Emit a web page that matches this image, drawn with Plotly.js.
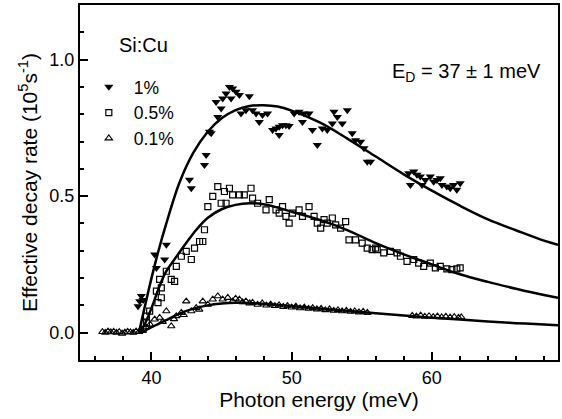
<!DOCTYPE html>
<html>
<head>
<meta charset="utf-8">
<script src="https://cdn.plot.ly/plotly-3.0.1.min.js"></script>
<style>html,body{margin:0;padding:0;background:#fff;}#chart{width:562px;height:419px;}</style>
</head>
<body>
<div id="chart"></div>
<script>
// ---- data ----
var seriesNames = ["1%", "0.5%", "0.1%"];

var cu1_x = [39.04,39.16,39.28,39.4,40.23,40.35,40.94,41.06,42.71,42.84,43.78,43.9,44.14,44.26,44.61,44.73,44.97,45.08,45.32,45.56,45.68,45.79,46.03,46.27,46.39,46.74,46.98,47.21,47.46,47.69,47.92,48.28,48.64,48.88,49.11,49.11,49.35,49.59,49.82,50.18,50.53,50.77,50.89,51.24,51.48,51.83,52.19,52.54,52.9,53.02,53.26,53.61,53.97,54.32,54.56,54.92,55.16,55.39,55.63,58.35,58.47,58.71,58.94,59.18,59.3,59.54,59.89,60.13,60.36,60.6,60.72,61.07,61.31,61.55,61.78,62.02];
var cu1_y = [0.097,0.115,0.134,0.12,0.286,0.237,0.268,0.322,0.56,0.529,0.614,0.651,0.736,0.73,0.845,0.79,0.821,0.858,0.876,0.900,0.858,0.894,0.882,0.870,0.803,0.815,0.866,0.815,0.803,0.772,0.797,0.803,0.742,0.748,0.754,0.724,0.76,0.76,0.757,0.803,0.809,0.772,0.803,0.803,0.742,0.687,0.748,0.742,0.766,0.809,0.79,0.766,0.815,0.73,0.705,0.699,0.675,0.626,0.626,0.584,0.541,0.59,0.578,0.572,0.541,0.559,0.572,0.553,0.559,0.566,0.541,0.535,0.529,0.541,0.523,0.547];

var cu05_x = [39.4,39.64,39.64,39.87,40.35,40.46,40.58,40.7,40.7,41.06,41.41,41.65,41.77,42.13,42.48,42.84,43.07,43.43,43.66,43.78,44.02,44.37,44.73,44.97,45.2,45.32,45.56,45.79,46.27,46.62,47.1,47.21,47.57,48.17,48.4,48.88,49.11,49.35,49.59,49.82,50.06,50.53,50.77,51.24,51.6,51.83,52.07,52.31,52.54,52.9,53.14,53.49,53.85,54.09,54.56,55.03,55.39,55.74,55.98,56.1,56.57,57.05,57.52,57.76,58.23,58.71,59.06,59.42,59.89,60.25,60.6,61.07,61.43,61.78,62.02];
var cu05_y = [0.012,0.036,0.061,0.079,0.152,0.11,0.195,0.164,0.128,0.225,0.195,0.188,0.243,0.28,0.298,0.268,0.31,0.334,0.334,0.377,0.462,0.499,0.535,0.474,0.517,0.474,0.529,0.505,0.505,0.505,0.529,0.493,0.474,0.45,0.487,0.45,0.438,0.462,0.426,0.401,0.438,0.45,0.426,0.462,0.426,0.401,0.383,0.414,0.401,0.42,0.395,0.383,0.407,0.34,0.34,0.328,0.31,0.304,0.31,0.304,0.292,0.298,0.292,0.28,0.261,0.268,0.255,0.243,0.255,0.237,0.243,0.234,0.231,0.234,0.237];

var cu01_x = [36.5,36.7,36.9,37.1,37.3,37.5,37.7,37.9,38.1,38.3,38.5,38.7,38.9,39.1,39.3,39.6,39.9,40.23,40.58,40.8,41.06,41.41,41.6,41.77,42.13,42.3,42.48,42.84,43.19,43.4,43.66,44.02,44.37,44.73,45.08,45.44,45.79,46.0,46.27,46.5,46.74,47.0,47.21,47.57,47.9,48.2,48.5,48.8,49.1,49.4,49.7,50.0,50.3,50.6,50.9,51.2,51.5,51.8,52.1,52.4,52.7,53.0,53.3,53.6,53.9,54.2,54.5,54.8,55.1,55.4,58.6,58.9,59.2,59.5,59.8,60.1,60.4,60.7,61.0,61.3,61.6,61.9,62.1];
var cu01_y = [0.003,0.0,0.005,0.002,0.004,0.0,0.003,-0.003,0.001,0.004,0.002,0.0,0.005,0.003,0.008,0.02,0.03,0.049,0.055,0.04,0.079,0.024,0.05,0.061,0.073,0.065,0.115,0.079,0.091,0.085,0.115,0.103,0.122,0.134,0.122,0.128,0.115,0.125,0.122,0.112,0.115,0.108,0.11,0.103,0.108,0.1,0.104,0.098,0.101,0.095,0.098,0.093,0.096,0.09,0.093,0.088,0.091,0.086,0.088,0.083,0.086,0.081,0.083,0.079,0.081,0.077,0.079,0.075,0.077,0.073,0.062,0.06,0.063,0.059,0.061,0.058,0.06,0.057,0.059,0.056,0.058,0.055,0.057];

// fitted curves
var fit1_x = [39.1,39.5,40.0,40.5,41.0,42.0,43.0,44.0,45.0,46.0,47.0,48.0,49.0,50.0,52.0,54.0,56.0,58.0,60.0,62.0,64.0,66.0,68.0,69.0];
var fit1_y = [0.0,0.09,0.2,0.3,0.39,0.55,0.66,0.735,0.785,0.815,0.83,0.833,0.828,0.813,0.77,0.71,0.645,0.58,0.52,0.465,0.415,0.375,0.337,0.322];
var fit05_x = [39.2,39.6,40.0,40.5,41.0,41.8,42.5,43.2,44.0,45.0,46.0,47.0,48.0,49.0,50.0,52.0,54.0,56.0,58.0,60.0,62.0,64.0,66.0,68.0,69.0];
var fit05_y = [0.0,0.04,0.09,0.16,0.22,0.28,0.33,0.377,0.42,0.452,0.468,0.474,0.47,0.458,0.443,0.413,0.375,0.328,0.287,0.25,0.214,0.186,0.161,0.138,0.128];
var fit01_x = [39.3,40.0,41.0,42.0,43.0,44.0,45.0,46.0,47.0,48.0,50.0,52.0,54.0,56.0,58.0,60.0,62.0,64.0,66.0,68.0,69.0];
var fit01_y = [0.0,0.02,0.045,0.07,0.088,0.1,0.107,0.11,0.109,0.106,0.098,0.089,0.08,0.071,0.063,0.055,0.048,0.041,0.035,0.03,0.027];

var xTickVals = [40, 50, 60];
var yTickVals = [0.0, 0.5, 1.0];

var FONT = "Liberation Sans, Arial, Helvetica, sans-serif";

function fitTrace(x, y) {
  return {x: x, y: y, type: 'scatter', mode: 'lines', showlegend: false,
          hoverinfo: 'skip', line: {color: '#000', width: 2.5, shape: 'spline', smoothing: 1}};
}

var traces = [
  fitTrace(fit1_x, fit1_y),
  fitTrace(fit05_x, fit05_y),
  fitTrace(fit01_x, fit01_y),
  {x: cu1_x, y: cu1_y, name: seriesNames[0], type: 'scatter', mode: 'markers',
   marker: {symbol: 'triangle-down', size: 8, color: '#000', line: {width: 0}}},
  {x: cu05_x, y: cu05_y, name: seriesNames[1], type: 'scatter', mode: 'markers',
   marker: {symbol: 'square-open', size: 6, color: '#000', line: {width: 1.2}}},
  {x: cu01_x, y: cu01_y, name: seriesNames[2], type: 'scatter', mode: 'markers',
   marker: {symbol: 'triangle-up-open', size: 6.5, color: '#000', line: {width: 1.1}}}
];

var layout = {
  width: 562, height: 419,
  margin: {l: 80, r: 4, t: 5, b: 59},
  paper_bgcolor: '#fff', plot_bgcolor: '#fff',
  font: {family: FONT, color: '#000', size: 18},
  showlegend: true,
  legend: {x: 0.008, y: 0.82, xanchor: 'left', yanchor: 'top', bgcolor: 'rgba(0,0,0,0)',
           font: {family: FONT, size: 17.5, color: '#000'}, itemwidth: 40, tracegroupgap: 0},
  xaxis: {
    range: [34.9, 69], tickvals: xTickVals, ticktext: xTickVals.map(String),
    ticks: 'inside', ticklen: 8, tickwidth: 2, tickcolor: '#000',
    minor: {dtick: 2, tick0: 0, ticks: 'inside', ticklen: 4, tickwidth: 2, tickcolor: '#000'},
    showline: true, linewidth: 2, linecolor: '#000', mirror: true,
    showgrid: false, zeroline: false,
    tickfont: {family: FONT, size: 18, color: '#000'},
    title: {text: 'Photon energy (meV)', font: {family: FONT, size: 21, color: '#000'}, standoff: 6}
  },
  yaxis: {
    range: [-0.1, 1.2], tickvals: yTickVals, ticktext: yTickVals.map(function(v){return v.toFixed(1);}),
    ticks: 'inside', ticklen: 8, tickwidth: 2, tickcolor: '#000',
    minor: {dtick: 0.1, tick0: 0, ticks: 'inside', ticklen: 4, tickwidth: 2, tickcolor: '#000'},
    showline: true, linewidth: 2, linecolor: '#000', mirror: true,
    showgrid: false, zeroline: false,
    tickfont: {family: FONT, size: 18, color: '#000'},
    title: {text: 'Effective decay rate (10<sup>5</sup>s<sup>-1</sup>)', font: {family: FONT, size: 21, color: '#000'}, standoff: 6}
  },
  annotations: [
    {xref: 'paper', yref: 'paper', x: 0.078, y: 0.887, xanchor: 'left', yanchor: 'middle',
     text: 'Si:Cu', showarrow: false, font: {family: FONT, size: 20, color: '#000'}},
    {xref: 'paper', yref: 'paper', x: 0.648, y: 0.81, xanchor: 'left', yanchor: 'middle',
     text: 'E<sub>D</sub> = 37 ± 1 meV', showarrow: false, font: {family: FONT, size: 20, color: '#000'}}
  ]
};

Plotly.newPlot('chart', traces, layout, {staticPlot: true, displayModeBar: false});
</script>
</body>
</html>
